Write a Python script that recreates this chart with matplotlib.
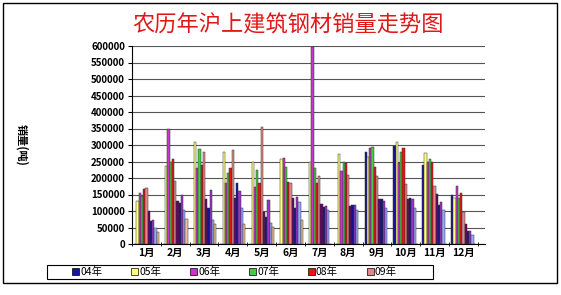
import matplotlib
matplotlib.use("Agg")
import matplotlib.pyplot as plt
from matplotlib.patches import Patch, Rectangle
import numpy as np

plt.rcParams['font.family'] = ['Noto Sans CJK SC', 'DejaVu Sans']

months = ['1月', '2月', '3月', '4月', '5月', '6月', '7月', '8月', '9月', '10月', '11月', '12月']
legend_labels = ['04年', '05年', '06年', '07年', '08年', '09年']

# series shown in the legend
s04 = [0, 0, 0, 0, 0, 0, 0, 0, 278000, 297000, 239000, 149000]
s05 = [130000, 237000, 310000, 280000, 249000, 257000, 249000, 274000, 265000, 308000, 277000, 138000]
s06 = [155000, 347000, 229000, 185000, 174000, 262000, 596000, 222000, 290000, 244000, 249000, 177000]
s07 = [145000, 247000, 288000, 215000, 224000, 234000, 229000, 249000, 295000, 280000, 257000, 138000]
s08 = [167000, 258000, 239000, 230000, 184000, 189000, 184000, 246000, 234000, 290000, 249000, 155000]
s09 = [171000, 191000, 279000, 285000, 355000, 185000, 206000, 210000, 206000, 182000, 177000, 98000]
# extra series drawn without legend entries
e1 = [101000, 130000, 136000, 139000, 98000, 138000, 121000, 116000, 136000, 137000, 151000, 60000]
e2 = [70000, 124000, 110000, 185000, 83000, 109000, 113000, 118000, 135000, 138000, 118000, 40000]
e3 = [73000, 148000, 164000, 160000, 133000, 142000, 115000, 118000, 130000, 137000, 128000, 40000]
e4 = [48000, 103000, 73000, 109000, 63000, 128000, 103000, 103000, 110000, 110000, 103000, 27000]
e5 = [37000, 75000, 60000, 60000, 52000, 73000, 0, 0, 0, 0, 0, 0]

series = [s04, s05, s06, s07, s08, s09, e1, e2, e3, e4, e5]
colors = ['#1414A0', '#FFFF80', '#CC33CC', '#44CC44', '#EE1111', '#E08888',
          '#660066', '#14148C', '#9933CC', '#99A8FF', '#F0C090']

W, H = 561, 295
fig = plt.figure(figsize=(W / 100, H / 100), dpi=100)
ax = fig.add_axes([132 / W, 1 - 244 / H, (485 - 132) / W, (244 - 46) / H])

x = np.arange(1, 13)
bw = 0.078
n = len(series)
for i, (vals, c) in enumerate(zip(series, colors)):
    off = (i - (n - 1) / 2) * bw
    ax.bar(x + off, vals, width=bw, color=c, edgecolor='#333333', linewidth=0.35, zorder=3)

ax.set_xlim(0.5, 12.75)
ax.set_ylim(0, 600000)
ax.set_yticks(np.arange(0, 600001, 50000))
ax.set_yticklabels([str(v) for v in range(0, 600001, 50000)], fontsize=7, fontweight='bold')
ax.set_xticks(x)
ax.set_xticklabels(months, fontsize=7.5, fontweight='bold')
ax.set_xticks(np.arange(0.5, 13, 1), minor=True)
ax.tick_params(axis='x', which='major', length=0, pad=3)
ax.tick_params(axis='x', which='minor', length=3, direction='inout')
ax.tick_params(axis='y', length=3, pad=2)
ax.grid(axis='y', color='#555555', linewidth=0.8, zorder=0)
for s in ['top', 'right']:
    ax.spines[s].set_visible(False)

fig.text(22 / W, 1 - 145 / H, '销量(吨)', rotation=270, fontsize=8, fontweight='bold',
         ha='center', va='center')

fig.text(288 / W, 1 - 25 / H, '农历年沪上建筑钢材销量走势图', color='#E01818',
         fontsize=16, ha='center', va='center')

handles = [Patch(facecolor=colors[i], edgecolor='black', linewidth=0.5) for i in range(6)]
leg = fig.legend(handles, legend_labels, ncol=6, loc='center left',
                 bbox_to_anchor=(72 / W, 1 - 272 / H), fontsize=7.5,
                 handlelength=0.7, handleheight=0.7, handletextpad=0.1,
                 columnspacing=2.75, frameon=False, borderpad=0, borderaxespad=0)

fig.patches.append(Rectangle((47 / W, 1 - 279 / H), (433 - 47) / W, (279 - 265) / H,
                             transform=fig.transFigure, fill=False,
                             edgecolor='black', linewidth=0.8))
fig.patches.append(Rectangle((3 / W, 1 - 283 / H), (557 - 3) / W, (283 - 3) / H,
                             transform=fig.transFigure, fill=False,
                             edgecolor='black', linewidth=1))

fig.savefig('out.png', dpi=100)
